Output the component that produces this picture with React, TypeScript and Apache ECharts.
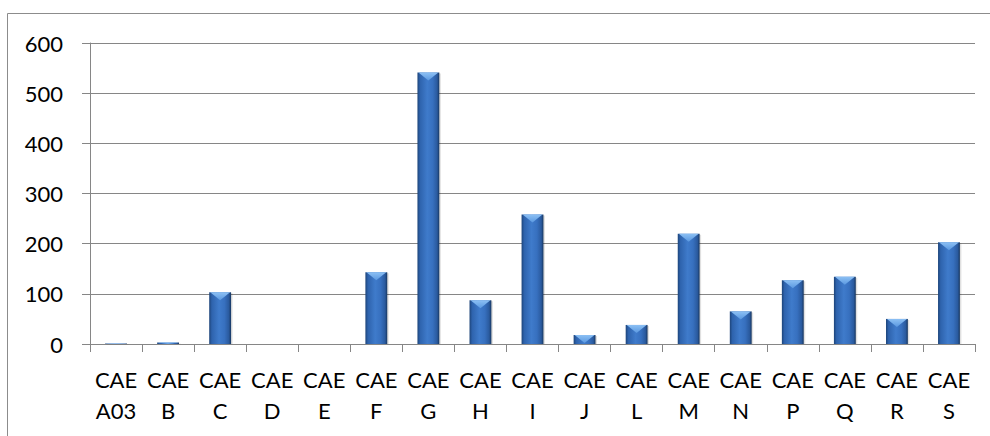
import React, { useEffect, useRef } from "react";
import * as echarts from "echarts";

const categories = [
  "CAE A03", "CAE B", "CAE C", "CAE D", "CAE E", "CAE F", "CAE G", "CAE H", "CAE I",
  "CAE J", "CAE L", "CAE M", "CAE N", "CAE P", "CAE Q", "CAE R", "CAE S",
];
const values = [1, 3, 103, 0, 0, 143, 541, 87, 258, 18, 38, 220, 65, 127, 134, 50, 203];
const yTicks = [0, 100, 200, 300, 400, 500, 600];

const GRAY = "#868686";
const FONT = "Lato";

export default function App() {
  const ref = useRef<HTMLDivElement>(null);
  useEffect(() => {
    if (!ref.current) return;
    const chart = echarts.init(ref.current, null, { renderer: "svg" });
    const bodyGrad = new echarts.graphic.LinearGradient(0, 0, 1, 0, [
      { offset: 0, color: "#1d4479" },
      { offset: 0.12, color: "#2e63ad" },
      { offset: 0.45, color: "#3f7bcb" },
      { offset: 0.7, color: "#3770bf" },
      { offset: 0.9, color: "#2a5a9e" },
      { offset: 1, color: "#17365f" },
    ]);
    const topGrad = new echarts.graphic.LinearGradient(0, 0, 0, 1, [
      { offset: 0, color: "#8cc0f4" },
      { offset: 1, color: "#5a98e0" },
    ]);
    chart.setOption({
      animation: false,
      graphic: [
        {
          type: "rect",
          shape: { x: 7.5, y: 13.5, width: 1100, height: 600 },
          style: { fill: "none", stroke: "#8c8c8c", lineWidth: 1 },
          silent: true,
        },
      ],
      grid: { left: 90, right: 15, top: 43, bottom: 92 },
      xAxis: {
        type: "category",
        data: categories,
        boundaryGap: true,
        axisLine: { show: true, lineStyle: { color: GRAY, width: 1 } },
        axisTick: { show: true, length: 8, interval: 0, lineStyle: { color: GRAY } },
        axisLabel: {
          interval: 0,
          margin: 20,
          color: "#000",
          fontFamily: FONT,
          fontSize: 22,
          lineHeight: 31,
          formatter: (v: string) => v.replace(" ", "\n"),
        },
        splitLine: { show: false },
      },
      yAxis: {
        type: "value",
        min: yTicks[0],
        max: yTicks[yTicks.length - 1],
        interval: 100,
        axisLine: { show: true, lineStyle: { color: GRAY, width: 1 } },
        axisTick: { show: true, length: 8, lineStyle: { color: GRAY } },
        axisLabel: { margin: 27, color: "#000", fontFamily: FONT, fontSize: 22 },
        splitLine: { show: true, lineStyle: { color: GRAY, width: 1 } },
      },
      series: [
        {
          type: "custom",
          data: values.map((v, i) => [i, v]),
          encode: { x: 0, y: 1 },
          renderItem: (params: any, api: any) => {
            const idx = api.value(0);
            const val = api.value(1);
            const top = api.coord([idx, val]);
            const base = api.coord([idx, 0]);
            const band = api.size([1, 0])[0];
            const w = band * 0.42;
            const x0 = top[0] - w / 2;
            const h = base[1] - top[1];
            if (h <= 0) return { type: "group", children: [] };
            const depth = Math.min(8, h);
            return {
              type: "group",
              children: [
                {
                  type: "rect",
                  shape: { x: x0 + 1.5, y: top[1] + 1, width: w, height: h - 1 },
                  style: { fill: "rgba(0,0,0,0.12)" },
                },
                {
                  type: "rect",
                  shape: { x: x0, y: top[1], width: w, height: h },
                  style: { fill: bodyGrad },
                },
                {
                  type: "polygon",
                  shape: {
                    points: [
                      [x0 + 1, top[1]],
                      [x0 + w - 1, top[1]],
                      [x0 + w / 2, top[1] + depth],
                    ],
                  },
                  style: { fill: topGrad },
                },
              ],
            };
          },
        },
      ],
    });
    return () => chart.dispose();
  }, []);
  return (
    <div
      ref={ref}
      style={{ position: "absolute", left: 0, top: 0, width: 990, height: 436, background: "#fff" }}
    />
  );
}
